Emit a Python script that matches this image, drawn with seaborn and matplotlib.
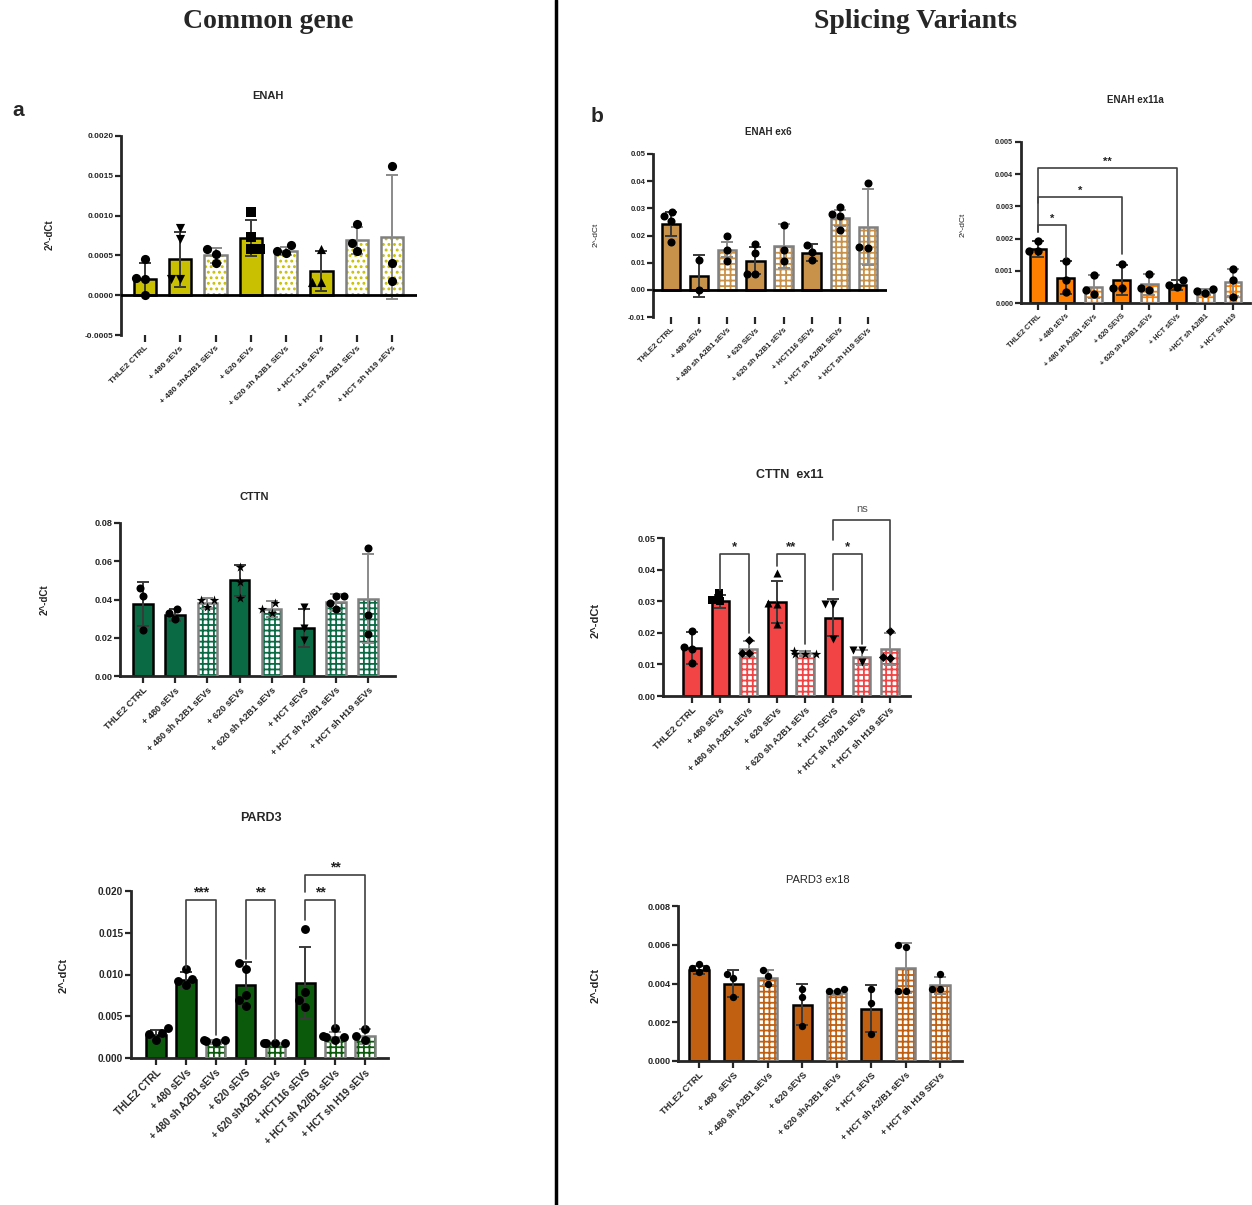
import numpy as np
import pandas as pd
import matplotlib
matplotlib.use("Agg")
import matplotlib.pyplot as plt
import seaborn as sns
from matplotlib.ticker import FormatStrFormatter, MultipleLocator
from matplotlib.lines import Line2D
from matplotlib.patches import Rectangle

W, H = 1252, 1205

# ---------------- data ----------------
enah_labels = ["THLE2 CTRL", "+ 480 sEVs", "+ 480 shA2B1 SEVs", "+ 620 sEVs",
               "+ 620 sh A2B1 SEVs", "+ HCT-116 sEVs", "+ HCT sh A2B1 SEVs", "+ HCT sh H19 sEVs"]
enah_means = [0.0002, 0.00045, 0.0005, 0.00072, 0.00055, 0.0003, 0.00069, 0.00073]
enah_sd = [0.0002, 0.00035, 0.00009, 0.00023, 0.00005, 0.00025, 0.00017, 0.00078]
enah_points = [[0.00046, 0.00022, 0.00020, 0.0], [0.00085, 0.00070, 0.00020, 0.00020],
               [0.00058, 0.00052, 0.00040], [0.00105, 0.00073, 0.00058, 0.00058],
               [0.00053, 0.00063, 0.00055], [0.00058, 0.00017, 0.00017],
               [0.00090, 0.00055, 0.00065], [0.00162, 0.00040, 0.00018]]
enah_markers = ["o", "v", "o", "s", "o", "^", "o", "o"]

cttn_labels = ["THLE2 CTRL", "+ 480 sEVs", "+ 480 sh A2B1 sEVs", "+ 620 sEVs",
               "+ 620 sh A2B1 sEVs", "+ HCT sEVS", "+ HCT sh A2/B1 sEVs", "+ HCT sh H19 sEVs"]
cttn_means = [0.0375, 0.032, 0.038, 0.050, 0.035, 0.025, 0.0385, 0.0405]
cttn_sd = [0.0115, 0.003, 0.003, 0.008, 0.004, 0.010, 0.0045, 0.0235]
cttn_points = [[0.046, 0.042, 0.024], [0.035, 0.030, 0.033], [0.040, 0.040, 0.036],
               [0.057, 0.049, 0.041], [0.038, 0.033, 0.035], [0.036, 0.025, 0.019],
               [0.042, 0.042, 0.038, 0.035], [0.067, 0.032, 0.022]]
cttn_markers = ["o", "o", "*", "*", "*", "v", "o", "o"]

pard3_labels = ["THLE2 CTRL", "+ 480 sEVs", "+ 480 sh A2B1 sEVs", "+ 620 sEVS",
                "+ 620 shA2B1 sEVs", "+ HCT116 sEVS", "+ HCT sh A2/B1 sEVs", "+ HCT sh H19 sEVs"]
pard3_means = [0.0028, 0.0093, 0.0019, 0.0088, 0.0017, 0.0090, 0.0025, 0.0026]
pard3_sd = [0.0005, 0.001, 0.0002, 0.0027, 0.0001, 0.0043, 0.0006, 0.0009]
pard3_points = [[0.0036, 0.0030, 0.0029, 0.0022], [0.0106, 0.0095, 0.0092, 0.0087],
                [0.0021, 0.0022, 0.0020, 0.0019], [0.0114, 0.0107, 0.0076, 0.0069, 0.0062],
                [0.0018, 0.0018, 0.0018, 0.0018], [0.0154, 0.0079, 0.0069, 0.0061],
                [0.0036, 0.0026, 0.0025, 0.0025, 0.0022], [0.0035, 0.0026, 0.0022]]
pard3_markers = ["o"] * 8
pard3_sig = [(1, 2, 0.0189, 0.0108, 0.0028, "***"), (3, 4, 0.0189, 0.0118, 0.0022, "**"),
             (5, 6, 0.0189, 0.0165, 0.0037, "**"), (5, 7, 0.0219, 0.0199, 0.0036, "**")]

ex6_labels = ["THLE2 CTRL", "+ 480 sEVs", "+ 480 sh A2B1 sEVs", "+ 620 SEVs",
              "+ 620 sh A2B1 sEVs", "+ HCT116 SEVs", "+ HCT sh A2/B1 SEVs", "+ HCT sh H19 SEVs"]
ex6_means = [0.0243, 0.0052, 0.0148, 0.0107, 0.0162, 0.0137, 0.0265, 0.0232]
ex6_sd = [0.0045, 0.0077, 0.0027, 0.005, 0.008, 0.003, 0.003, 0.014]
ex6_points = [[0.0285, 0.0272, 0.0255, 0.0175], [0.0108, 0.0], [0.0200, 0.0145, 0.0107],
              [0.0170, 0.0135, 0.0060, 0.0060], [0.0240, 0.0145, 0.0107],
              [0.0165, 0.0140, 0.0110], [0.0305, 0.0280, 0.0270, 0.0220],
              [0.0395, 0.0155, 0.0158]]
ex6_markers = ["o"] * 8

ex11a_labels = ["THLE2 CTRL", "+ 480 sEVs", "+ 480 sh A2/B1 sEVs", "+ 620 SEVS",
                "+ 620 sh A2/B1 sEVs", "+ HCT sEVs", "+HCT sh A2/B1", "+ HCT Sh H19"]
ex11a_means = [0.00168, 0.00079, 0.00051, 0.00072, 0.00058, 0.00055, 0.00034, 0.00065]
ex11a_sd = [0.00025, 0.00051, 0.00036, 0.00047, 0.00032, 0.00015, 0.0001, 0.00042]
ex11a_points = [[0.00192, 0.00160, 0.00163], [0.00130, 0.00070, 0.00035],
                [0.00087, 0.00040, 0.00028], [0.00122, 0.00048, 0.00048],
                [0.00090, 0.00048, 0.00040], [0.00070, 0.00055, 0.00050],
                [0.00045, 0.00032, 0.00038], [0.00107, 0.00072, 0.00020]]
ex11a_markers = ["o"] * 8
ex11a_sig = [(0, 1, 0.00242, 0.0022, 0.0014, "*"), (0, 3, 0.0033, 0.0031, 0.00152, "*"),
             (0, 5, 0.0042, 0.0022, 0.00065, "**")]

ex11_labels = ["THLE2 CTRL", "+ 480 sEVs", "+ 480 sh A2B1 sEVs", "+ 620 sEVs",
               "+ 620 sh A2B1 sEVs", "+ HCT SEVS", "+ HCT sh A2/B1 sEVs", "+ HCT sh H19 sEVs"]
ex11_means = [0.0152, 0.0300, 0.0150, 0.0297, 0.0135, 0.0248, 0.0123, 0.0148]
ex11_sd = [0.005, 0.002, 0.0025, 0.0066, 0.0007, 0.0058, 0.0024, 0.005]
ex11_points = [[0.0205, 0.0155, 0.0150, 0.0105], [0.0325, 0.0300, 0.0303],
               [0.0178, 0.0135, 0.0137], [0.0390, 0.0293, 0.0290, 0.0228],
               [0.0143, 0.0133, 0.0133, 0.0133], [0.0292, 0.0290, 0.0180],
               [0.0145, 0.0145, 0.0108], [0.0205, 0.0120, 0.0125]]
ex11_markers = ["o", "s", "D", "^", "*", "v", "v", "D"]
ex11_sig = [(1, 2, 0.0449, 0.0335, 0.0200, "*"), (3, 4, 0.0449, 0.0410, 0.0165, "**"),
            (5, 6, 0.0449, 0.0335, 0.0165, "*"), (5, 7, 0.0557, 0.0494, 0.0215, "ns")]

ex18_labels = ["THLE2 CTRL", "+ 480  sEVS", "+ 480 sh A2B1 sEVs", "+ 620 sEVS",
               "+ 620 shA2B1 sEVs", "+ HCT sEVS", "+ HCT sh A2/B1 sEVs", "+ HCT sh H19 SEVs"]
ex18_means = [0.0047, 0.0040, 0.0043, 0.0029, 0.0035, 0.0027, 0.0048, 0.0039]
ex18_sd = [0.0002, 0.0007, 0.0004, 0.00105, 0.0001, 0.0012, 0.0013, 0.00045]
ex18_points = [[0.0050, 0.0046, 0.0048, 0.0048], [0.0045, 0.0043, 0.0033],
               [0.0047, 0.0044, 0.0040], [0.0037, 0.0033, 0.0018],
               [0.0036, 0.0037, 0.0036], [0.0037, 0.0030, 0.0014],
               [0.0059, 0.0060, 0.0036, 0.0036], [0.0045, 0.0037, 0.0037]]
ex18_markers = ["o"] * 8

hatched = [2, 4, 6, 7]

# ---------------- style ----------------
sns.set_style("ticks")
plt.rcParams["font.family"] = ["Liberation Sans", "DejaVu Sans"]
plt.rcParams["hatch.linewidth"] = 1.3

fig = plt.figure(figsize=(W / 100, H / 100), dpi=100)


def px_axes(x0, x1, ytop, ybot):
    return fig.add_axes([x0 / W, 1 - ybot / H, (x1 - x0) / W, (ybot - ytop) / H])


def draw_panel(box, labels, means, sd, points, markers, color, hatch, ylim, step, fmt,
               xlim, width=0.62, fs=6.5, ms=6, sig=None, sig_fs=9):
    ax = px_axes(*box)
    sns.barplot(x=labels, y=means, order=labels, color=color, saturation=1, width=width,
                edgecolor="black", linewidth=1.8, ax=ax, zorder=2)
    for i, bar in enumerate(ax.patches):
        if i in hatched:
            bar.set_facecolor("white")
            bar.set_edgecolor(color)
            bar.set_linewidth(0)
            bar.set_hatch(hatch)
            ax.add_patch(Rectangle(bar.get_xy(), bar.get_width(), bar.get_height(),
                                   facecolor="none", edgecolor="#808080", lw=1.8, zorder=3))
    idx = np.arange(len(labels))
    solid = [i for i in idx if i not in hatched]
    for sel, ec in [(solid, "#3a3a3a"), (hatched, "#8a8a8a")]:
        ax.errorbar(idx[sel], np.array(means)[sel], yerr=np.array(sd)[sel], fmt="none",
                    ecolor=ec, elinewidth=1.4, capsize=4.5, capthick=1.4, zorder=4)
    rows = [(labels[i], v, markers[i]) for i, pts in enumerate(points) for v in pts]
    df = pd.DataFrame(rows, columns=["group", "value", "marker"])
    for m, sub in df.groupby("marker"):
        s = ms * (0.8 if m == "D" else 1.25 if m == "*" else 1.0)
        sns.swarmplot(data=sub, x="group", y="value", order=labels, marker=m, color="black",
                      size=s, ax=ax, zorder=5, linewidth=0)
    ax.set_xlim(*xlim)
    ax.set_ylim(*ylim)
    ax.yaxis.set_major_locator(MultipleLocator(step))
    ax.yaxis.set_major_formatter(FormatStrFormatter(fmt))
    ax.set_xticks(idx)
    ax.set_xticklabels(labels, rotation=45, ha="right", rotation_mode="anchor",
                       fontsize=fs, fontweight="bold")
    for t in ax.get_yticklabels():
        t.set_fontweight("bold")
        t.set_fontsize(fs)
    ax.set_xlabel("")
    ax.set_ylabel("")
    ax.tick_params(axis="y", length=4, width=1.6, pad=1.5)
    ax.tick_params(axis="x", length=5, width=1.6, pad=2)
    sns.despine(ax=ax)
    ax.spines["left"].set_linewidth(2)
    ax.spines["bottom"].set_linewidth(2)
    if ylim[0] < 0:
        ax.spines["bottom"].set_visible(False)
        ax.axhline(0, color="black", lw=2, zorder=6)
    if sig:
        span = ylim[1] - ylim[0]
        for i, j, yb, yl, yr, txt in sig:
            ax.plot([i, i, j, j], [yl, yb, yb, yr], color="#404040", lw=1.2,
                    clip_on=False, zorder=6)
            col = "#555555" if txt == "ns" else "#222222"
            dy = 0.035 if txt == "ns" else 0.005
            ax.text((i + j) / 2, yb + span * dy, txt, ha="center",
                    va="bottom", fontsize=sig_fs if txt != "ns" else sig_fs - 1.5,
                    fontweight="bold" if txt != "ns" else "normal", color=col, clip_on=False)
    return ax


# panel a
draw_panel((121, 417, 136, 335), enah_labels, enah_means, enah_sd, enah_points, enah_markers,
           "#c8c000", "...", (-0.0005, 0.002), 0.0005, "%.4f", (-0.68, 7.71),
           width=0.63, fs=6, ms=6.6)
draw_panel((120, 395, 523, 676), cttn_labels, cttn_means, cttn_sd, cttn_points, cttn_markers,
           "#0a6a44", "+++", (0, 0.08), 0.02, "%.2f", (-0.72, 7.84),
           width=0.61, fs=6.6, ms=5.8)
draw_panel((131, 388, 891, 1058), pard3_labels, pard3_means, pard3_sd, pard3_points,
           pard3_markers, "#0b5a0b", "+++", (0, 0.02), 0.005, "%.3f", (-0.84, 7.77),
           width=0.65, fs=7.2, ms=6.4, sig=pard3_sig, sig_fs=10)

# panel b
draw_panel((653, 887, 154, 317), ex6_labels, ex6_means, ex6_sd, ex6_points, ex6_markers,
           "#c8924a", "+++", (-0.01, 0.05), 0.01, "%.2f", (-0.64, 7.68),
           width=0.65, fs=5.6, ms=5.8)
draw_panel((1021, 1250, 142, 303), ex11a_labels, ex11a_means, ex11a_sd, ex11a_points,
           ex11a_markers, "#ff8000", "+++", (0, 0.005), 0.001, "%.3f", (-0.61, 7.61),
           width=0.6, fs=5.2, ms=6, sig=ex11a_sig, sig_fs=8)
draw_panel((663, 910, 538, 696), ex11_labels, ex11_means, ex11_sd, ex11_points, ex11_markers,
           "#f24444", "+++", (0, 0.05), 0.01, "%.2f", (-1.03, 7.71),
           width=0.62, fs=6.6, ms=5.8, sig=ex11_sig, sig_fs=9.5)
draw_panel((678, 962, 906, 1061), ex18_labels, ex18_means, ex18_sd, ex18_points, ex18_markers,
           "#c06010", "+++", (0, 0.008), 0.002, "%.3f", (-0.61, 7.64),
           width=0.56, fs=6.6, ms=5.3)


def ftext(x, y, s, **kw):
    fig.text(x / W, 1 - y / H, s, ha="center", va="center", **kw)


# titles
ftext(268, 96, "ENAH", fontsize=8, fontweight="semibold")
ftext(254, 497, "CTTN", fontsize=8, fontweight="semibold")
ftext(261, 818, "PARD3", fontsize=9, fontweight="bold")
ftext(768, 132, "ENAH ex6", fontsize=7, fontweight="semibold")
ftext(1135, 100, "ENAH ex11a", fontsize=7, fontweight="semibold")
ftext(790, 475, "CTTN  ex11", fontsize=9, fontweight="bold")
ftext(818, 880, "PARD3 ex18", fontsize=8)

# y labels
for x, y, fs, fw in [(50, 235, 7, "bold"), (45, 600, 7, "bold"), (64, 975, 8, "bold"),
                     (596, 235, 6, "normal"), (963, 225, 6, "normal"),
                     (596, 620, 8, "bold"), (596, 985, 8, "bold")]:
    ftext(x, y, "2^-dCt", fontsize=fs, fontweight=fw, rotation=90)

# headers and panel letters
ftext(268, 22, "Common gene", fontsize=20, fontweight="bold", family="Liberation Serif")
ftext(915, 22, "Splicing Variants", fontsize=20, fontweight="bold", family="Liberation Serif")
ftext(18, 110, "a", fontsize=15, fontweight="bold")
ftext(597, 117, "b", fontsize=15, fontweight="bold")

fig.add_artist(Line2D([556 / W, 556 / W], [0, 1], color="black", lw=2.5))

fig.savefig("out.png", dpi=100)
